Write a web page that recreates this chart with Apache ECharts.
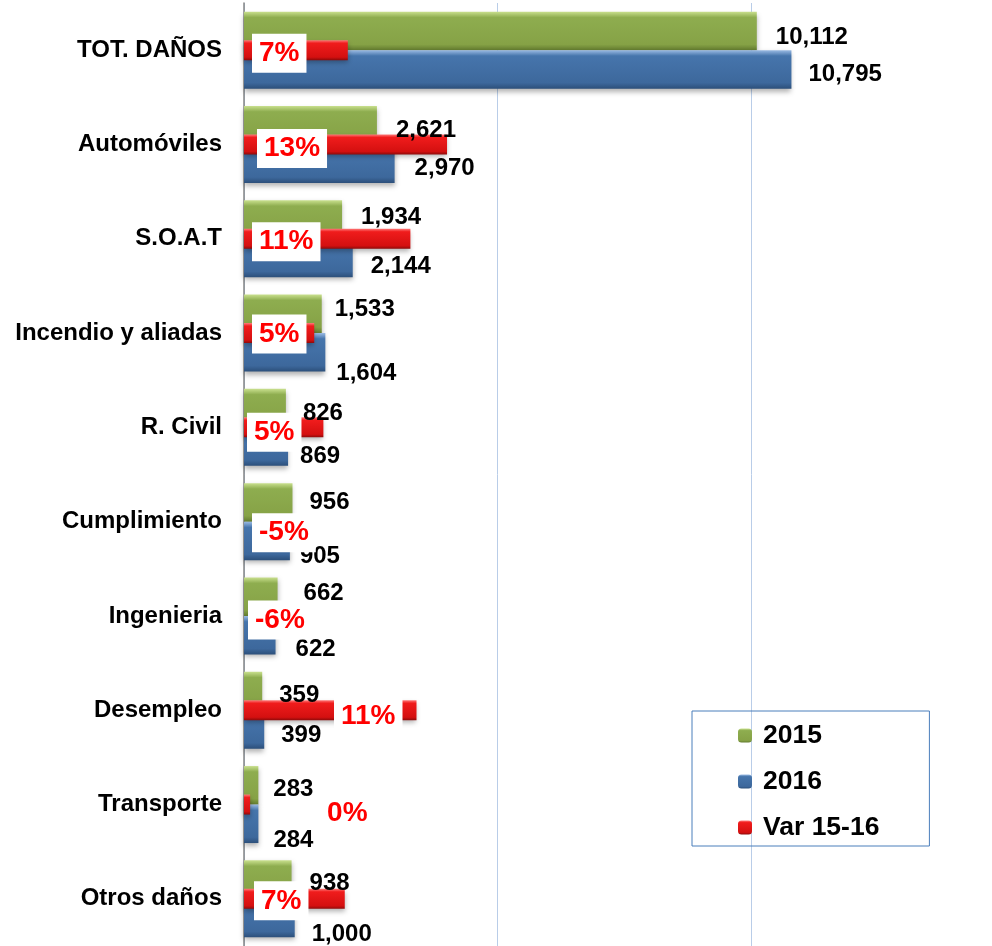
<!DOCTYPE html>
<html>
<head>
<meta charset="utf-8">
<script src="https://cdn.jsdelivr.net/npm/echarts@6/dist/echarts.min.js"></script>
<style>
  html, body { margin: 0; padding: 0; background: #fff; }
  #main { width: 992px; height: 946px; }
</style>
</head>
<body>
<div id="main"></div>
<script>
var categories = ['TOT. DAÑOS', 'Automóviles', 'S.O.A.T', 'Incendio y aliadas', 'R. Civil',
                  'Cumplimiento', 'Ingenieria', 'Desempleo', 'Transporte', 'Otros daños'];
var values2015 = [10112, 2621, 1934, 1533, 826, 956, 662, 359, 283, 938];
var values2016 = [10795, 2970, 2144, 1604, 869, 905, 622, 399, 284, 1000];
var variation = [6.8, 13.3, 10.9, 4.6, 5.2, -5.3, -6.0, 11.3, 0.4, 6.6];

var font = '"Liberation Sans", Arial, sans-serif';

function grad(c0, c1, c2, c3) {
    return new echarts.graphic.LinearGradient(0, 0, 0, 1, [
        {offset: 0, color: c0},
        {offset: 0.15, color: c1},
        {offset: 0.85, color: c2},
        {offset: 1, color: c3}
    ]);
}

var numLabel = function (p) { return p.value.toLocaleString('en-US'); };

// label nudges, the original labels were moved by hand
var offs2015 = [[1, 6], [1, 5], [1, -2], [-5, -4], [-1, 5], [-1, 0], [8, -3], [-1, 4], [-3, 4], [0, 4]];
var offs2016 = [[-1, 5], [2, 5], [0, 8], [-7, 21], [-6, 10], [-8, 15], [2, 14], [-1, 6], [-3, 17], [-1, 16]];

var varLabelPos = [
    {position: 'insideLeft', distance: 8, offset: [0, 3]},
    {position: 'insideLeft', distance: 13, offset: [0, 4]},
    {position: 'insideLeft', distance: 8, offset: [0, 3]},
    {position: 'insideLeft', distance: 8, offset: [0, 1]},
    {position: 'insideLeft', distance: 3, offset: [0, 5]},
    {position: 'right', distance: 8, offset: [0, 11]},
    {position: 'right', distance: 4, offset: [0, 4]},
    {position: 'insideRight', distance: 14, offset: [0, 6]},
    {position: 'right', distance: 70, offset: [0, 9]},
    {position: 'insideLeft', distance: 10, offset: [0, 2]}
];

function withOffsets(vals, offs) {
    return vals.map(function (v, i) { return {value: v, label: {offset: offs[i]}}; });
}

var varData = variation.map(function (v, i) {
    var item = {value: v, label: varLabelPos[i]};
    // axis starts at 0: negative bars are not drawn, only their label stays
    if (v < 0) item.itemStyle = {color: 'rgba(0,0,0,0)', shadowColor: 'rgba(0,0,0,0)'};
    return item;
});

var option = {
    animation: false,
    textStyle: {fontFamily: font},
    grid: {left: 244, right: 0, top: 3, bottom: -1, containLabel: false},
    legend: {
        orient: 'vertical',
        left: 692,
        top: 711,
        borderColor: '#4a7ebb',
        borderWidth: 1,
        padding: [11, 50, 5, 46],
        itemGap: 19,
        itemWidth: 14,
        itemHeight: 14,
        textStyle: {fontSize: 26.5, lineHeight: 26, fontWeight: 'bold', color: '#000', fontFamily: font,
                    padding: [0, 0, 0, 6]},
        data: ['2015', '2016', 'Var 15-16']
    },
    xAxis: [
        {
            type: 'value', min: 0, max: 14750, interval: 5000,
            axisLabel: {show: false}, axisLine: {show: false}, axisTick: {show: false},
            splitLine: {showMaxLine: false, lineStyle: {color: '#b9cde8', width: 1}}
        },
        {
            type: 'value', min: 0, max: 49, show: false,
            splitLine: {show: false}
        }
    ],
    yAxis: [
        {
            type: 'category', data: categories, inverse: true,
            axisLine: {lineStyle: {color: '#868686', width: 1.5}},
            axisTick: {show: false},
            axisLabel: {fontSize: 24, fontWeight: 'bold', color: '#000', margin: 22, fontFamily: font,
                        padding: [5, 0, 0, 0]}
        },
        {
            type: 'category', data: categories, inverse: true, show: false
        }
    ],
    series: [
        {
            name: '2015', type: 'bar', data: withOffsets(values2015, offs2015),
            barWidth: 38.5, barGap: '0%',
            itemStyle: {
                color: grad('#c9e08e', '#8ead4f', '#86a246', '#637c2f'),
                shadowColor: 'rgba(0,0,0,0.3)', shadowBlur: 5, shadowOffsetY: 3
            },
            label: {
                show: true, position: 'right', distance: 18,
                fontSize: 24, fontWeight: 'bold', color: '#000', fontFamily: font,
                formatter: numLabel
            }
        },
        {
            name: '2016', type: 'bar', data: withOffsets(values2016, offs2016),
            barWidth: 38.5, barGap: '0%',
            itemStyle: {
                color: grad('#9bbbe4', '#4675ac', '#3d689c', '#2c4f7a'),
                shadowColor: 'rgba(0,0,0,0.3)', shadowBlur: 5, shadowOffsetY: 3
            },
            label: {
                show: true, position: 'right', distance: 18,
                fontSize: 24, fontWeight: 'bold', color: '#000', fontFamily: font,
                formatter: numLabel
            }
        },
        {
            name: 'Var 15-16', type: 'bar', data: varData,
            xAxisIndex: 1, yAxisIndex: 1,
            barWidth: 20, clip: false,
            itemStyle: {
                color: grad('#ff7a7a', '#f01c1c', '#d41010', '#8e0a0a'),
                shadowColor: 'rgba(0,0,0,0.3)', shadowBlur: 5, shadowOffsetY: 3
            },
            label: {
                show: true,
                fontSize: 28, lineHeight: 30, fontWeight: 'bold', color: '#ff0000', fontFamily: font,
                backgroundColor: '#fff', padding: [5, 7, 4, 7],
                formatter: function (p) { return Math.round(p.value) + '%'; }
            }
        }
    ]
};

var myChart = echarts.init(document.getElementById('main'));
myChart.setOption(option);
</script>
</body>
</html>
